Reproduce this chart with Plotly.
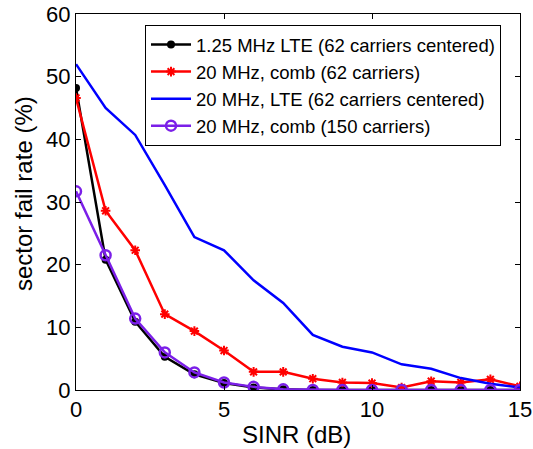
import plotly.graph_objects as go

sinr = list(range(16))
lte_125 = [48.2, 20.8, 10.9, 5.3, 2.5, 1.1, 0.4, 0.1, 0, 0, 0, 0, 0, 0, 0, 0]
comb_62 = [46.6, 28.6, 22.3, 12.1, 9.4, 6.3, 2.9, 2.9, 1.8, 1.2, 1.1, 0.4, 1.4, 1.2, 1.7, 0.6]
lte_20 = [52.0, 45.0, 40.7, 32.7, 24.4, 22.3, 17.5, 13.9, 8.8, 6.9, 6.0, 4.1, 3.4, 1.9, 1.0, 0.4]
comb_150 = [31.7, 21.5, 11.4, 6.0, 2.8, 1.2, 0.5, 0.1, 0, 0, 0, 0, 0, 0, 0, 0]

names = ["1.25 MHz LTE (62 carriers centered)", "20 MHz, comb (62 carriers)",
         "20 MHz, LTE (62 carriers centered)", "20 MHz, comb (150 carriers)"]
x_title = "SINR (dB)"
y_title = "sector fail rate (%)"

purple = "#7b1fe8"
fig = go.Figure()
fig.add_trace(go.Scatter(x=sinr, y=lte_125, name=names[0], mode="lines+markers",
                         line=dict(color="black", width=2.5),
                         marker=dict(symbol="circle", size=8, color="black")))
fig.add_trace(go.Scatter(x=sinr, y=comb_62, name=names[1], mode="lines+markers",
                         line=dict(color="red", width=2.5),
                         marker=dict(symbol="asterisk", size=8, color="red",
                                     line=dict(color="red", width=2))))
fig.add_trace(go.Scatter(x=sinr, y=lte_20, name=names[2], mode="lines",
                         line=dict(color="blue", width=2.5)))
fig.add_trace(go.Scatter(x=sinr, y=comb_150, name=names[3], mode="lines+markers",
                         line=dict(color=purple, width=2.5),
                         marker=dict(symbol="circle-open", size=10, color=purple,
                                     line=dict(color=purple, width=2.5))))

W, H = 533, 449
L, R, T, B = 76, 13, 14, 59
pw, ph = W - L - R, H - T - B

axis_common = dict(showgrid=False, zeroline=False, showline=True, linecolor="black",
                   linewidth=1, mirror="ticks", ticks="inside", ticklen=5,
                   tickcolor="black", tickfont=dict(size=22, color="black"),
                   automargin=False, ticklabeloverflow="allow")
fig.update_layout(
    width=W, height=H,
    margin=dict(l=L, r=R, t=T, b=B),
    paper_bgcolor="white", plot_bgcolor="white",
    font=dict(family="Liberation Sans, Arial, sans-serif", color="black"),
    xaxis=dict(range=[0, 15], tickvals=[0, 5, 10, 15], **axis_common),
    yaxis=dict(range=[0, 60], tickvals=[0, 10, 20, 30, 40, 50, 60], **axis_common),
    legend=dict(x=(145 - L) / pw, y=((H - B) - 25) / ph, xanchor="left", yanchor="top",
                bgcolor="white", bordercolor="black", borderwidth=1,
                font=dict(size=18.5), tracegroupgap=0, itemwidth=40),
    showlegend=True,
    annotations=[
        dict(text=x_title, xref="paper", yref="paper", x=(296 - L) / pw,
             y=-(434 - (H - B)) / ph, xanchor="center", yanchor="middle",
             showarrow=False, font=dict(size=24)),
        dict(text=y_title, xref="paper", yref="paper", x=-(L - 23) / pw,
             y=((H - B) - 194) / ph, xanchor="center", yanchor="middle",
             textangle=-90, showarrow=False, font=dict(size=24)),
    ],
)
fig.write_html("out.html", config={"displayModeBar": False},
               post_script="document.body.style.margin='0';")
